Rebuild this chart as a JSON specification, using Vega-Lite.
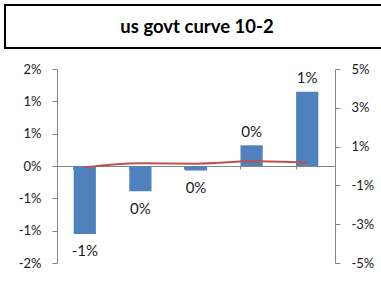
{
  "$schema": "https://vega.github.io/schema/vega-lite/v6.json",
  "background": "white",
  "padding": {"left": 4, "top": 4, "right": 0, "bottom": 0},
  "spacing": 14,
  "columns": 1,
  "center": true,
  "config": {
    "font": "Lato",
    "axis": {
      "domainColor": "#868686",
      "tickColor": "#868686",
      "labelColor": "#1a1a1a",
      "labelFont": "Lato",
      "labelFontSize": 13,
      "labelOverlap": false,
      "grid": false,
      "title": null
    },
    "view": {"stroke": null}
  },
  "concat": [
    {
      "width": 434,
      "height": 43,
      "view": {"stroke": "black", "strokeWidth": 2, "fill": "white"},
      "data": {"values": [{"title": "us govt curve 10-2"}]},
      "mark": {"type": "text", "font": "Lato", "fontSize": 18.5, "fontWeight": "bold", "color": "black", "baseline": "middle", "align": "center", "dx": -25, "dy": 0},
      "encoding": {"text": {"field": "title", "type": "nominal"}}
    },
    {
      "width": 278,
      "height": 194,
      "data": {
        "values": [
          {"cat": "A", "bar": -1.05, "line": -0.07},
          {"cat": "B", "bar": -0.39, "line": 0.14},
          {"cat": "C", "bar": -0.07, "line": 0.12},
          {"cat": "D", "bar": 0.32, "line": 0.24},
          {"cat": "E", "bar": 1.15, "line": 0.17}
        ]
      },
      "transform": [
        {"calculate": "(datum.bar < 0 && round(abs(datum.bar)) > 0 ? '-' : '') + round(abs(datum.bar)) + '%'", "as": "label"}
      ],
      "encoding": {
        "x": {
          "field": "cat",
          "type": "nominal",
          "sort": null,
          "scale": {"paddingInner": 0.6, "paddingOuter": 0.3},
          "axis": {"labels": false, "tickSize": 3, "bandPosition": 0, "offset": -97, "domainColor": "#868686", "tickColor": "#868686"}
        }
      },
      "layer": [
        {
          "encoding": {
            "y": {
              "field": "bar",
              "type": "quantitative",
              "scale": {"domain": [-1.5, 1.5], "nice": false},
              "axis": {
                "values": [-1.5, -1, -0.5, 0, 0.5, 1, 1.5],
                "labelExpr": "(datum.value < 0 && round(abs(datum.value)) > 0 ? '-' : '') + round(abs(datum.value)) + '%'",
                "labelOverlap": false,
                "labelFontSize": 13,
                "labelFont": "Lato",
                "tickSize": 5,
                "labelPadding": 11,
                "minExtent": 53
              }
            }
          },
          "layer": [
            {
              "mark": {"type": "bar", "color": "#4F81BD"},
              "encoding": {"y2": {"datum": 0}}
            },
            {
              "transform": [{"filter": "datum.bar < 0"}],
              "mark": {"type": "text", "fontSize": 15, "color": "#1a1a1a", "baseline": "middle", "dy": 17.5},
              "encoding": {"text": {"field": "label", "type": "nominal"}}
            },
            {
              "transform": [{"filter": "datum.bar >= 0"}],
              "mark": {"type": "text", "fontSize": 15, "color": "#1a1a1a", "baseline": "middle", "dy": -13.7},
              "encoding": {"text": {"field": "label", "type": "nominal"}}
            }
          ]
        },
        {
          "mark": {"type": "line", "color": "#C0504D", "strokeWidth": 2, "interpolate": "monotone"},
          "encoding": {
            "y": {
              "field": "line",
              "type": "quantitative",
              "scale": {"domain": [-5, 5], "nice": false},
              "axis": {
                "orient": "right",
                "values": [-5, -3, -1, 1, 3, 5],
                "labelExpr": "(datum.value < 0 ? '-' : '') + round(abs(datum.value)) + '%'",
                "labelOverlap": false,
                "labelFontSize": 13,
                "tickSize": 5,
                "labelPadding": 11,
                "minExtent": 53
              }
            }
          }
        }
      ],
      "resolve": {"scale": {"y": "independent"}}
    }
  ]
}
